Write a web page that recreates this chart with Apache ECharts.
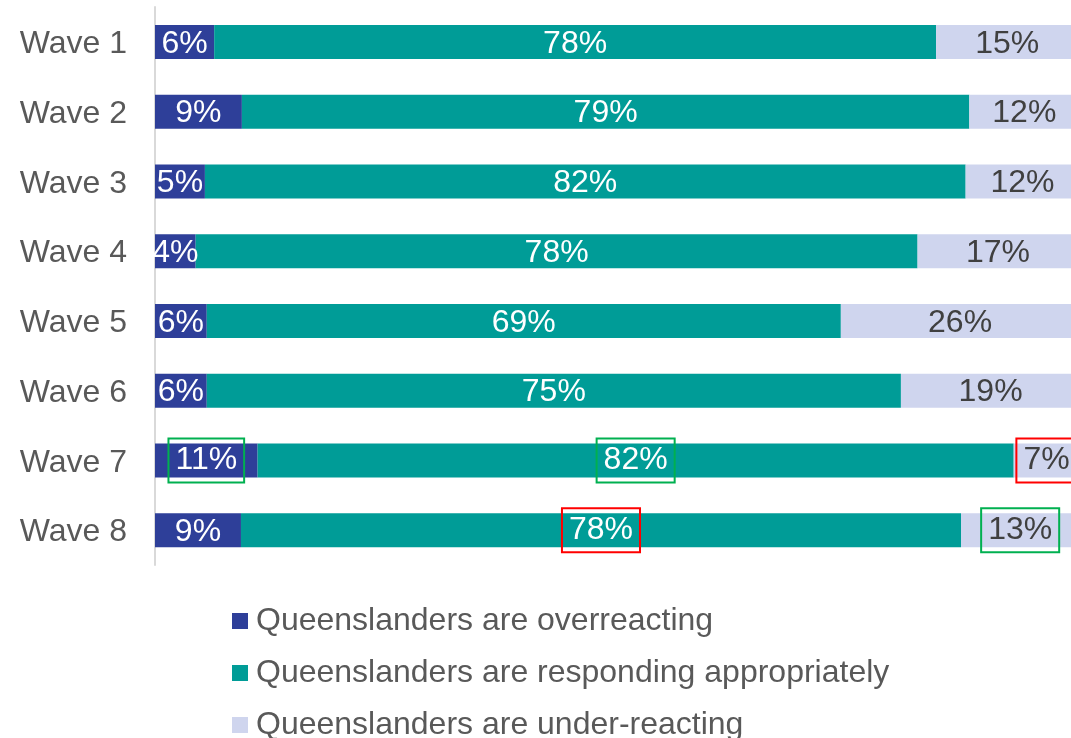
<!DOCTYPE html>
<html>
<head>
<meta charset="utf-8">
<script src="https://cdn.jsdelivr.net/npm/echarts@6/dist/echarts.min.js"></script>
<style>
html,body{margin:0;padding:0;background:#fff;}
#chart{width:1071px;height:738px;}
</style>
</head>
<body>
<div id="chart"></div>
<script>
const categories = ['Wave 1','Wave 2','Wave 3','Wave 4','Wave 5','Wave 6','Wave 7','Wave 8'];
const seriesNames = ['Queenslanders are overreacting','Queenslanders are responding appropriately','Queenslanders are under-reacting'];
const overreacting = [6.4, 9.4, 5.4, 4.4, 5.6, 5.6, 11.1, 9.3];
const appropriate  = [78.1, 78.7, 82.3, 78.1, 68.6, 75.1, 81.8, 77.9];
const underreacting = [15.4, 11.9, 12.3, 17.4, 25.8, 19.4, 7.1, 12.8];
// highlighted labels: [series index, category, box colour]
const highlights = [
  [0, 'Wave 7', '#00B050'],
  [1, 'Wave 7', '#00B050'],
  [2, 'Wave 7', '#FF0000'],
  [1, 'Wave 8', '#FF0000'],
  [2, 'Wave 8', '#00B050']
];
// the visible plot shows only up to this share (the rest runs off the picture)
const visibleMax = 99.1;

const colors = ['#2E3F99', '#009C97', '#CFD5EE'];
const labelColors = ['#FFFFFF', '#FFFFFF', '#404040'];
const font = 'Liberation Sans, Arial, sans-serif';
const allValues = [overreacting, appropriate, underreacting];

function buildData(si) {
  return allValues[si].map((v, i) => {
    const h = highlights.find(x => x[0] === si && x[1] === categories[i]);
    if (!h) return v;
    return {
      value: v,
      label: { borderColor: h[2], borderWidth: 2, padding: [9, 7, 3, 7], offset: [0, 0] }
    };
  });
}

const chart = echarts.init(document.getElementById('chart'), null, {renderer: 'canvas'});
chart.setOption({
  animation: false,
  backgroundColor: '#fff',
  grid: { left: 155, right: 0, top: 7, bottom: 173, containLabel: false },
  xAxis: { type: 'value', min: 0, max: visibleMax, show: false },
  yAxis: {
    type: 'category',
    data: categories,
    inverse: true,
    axisLine: { show: true, lineStyle: { color: '#D9D9D9', width: 2 } },
    axisTick: { show: false },
    axisLabel: {
      margin: 28,
      formatter: v => '{a|' + v + '}',
      rich: { a: { color: '#595959', fontSize: 32, fontFamily: font, lineHeight: 32, padding: [5, 0, 0, 0] } }
    }
  },
  legend: {
    orient: 'vertical',
    left: 227,
    top: 600,
    height: 200,
    itemWidth: 16,
    itemHeight: 16,
    itemGap: 20,
    icon: 'rect',
    textStyle: { color: '#595959', fontSize: 32, fontFamily: font, padding: [0,0,0,3] },
    data: seriesNames
  },
  series: seriesNames.map((name, si) => ({
    name: name,
    type: 'bar',
    stack: 'total',
    barWidth: 34,
    clip: false,
    itemStyle: { color: colors[si] },
    label: {
      show: true,
      position: 'inside',
      color: labelColors[si],
      fontSize: 32,
      fontFamily: font,
      lineHeight: 32,
      offset: [0, 2],
      formatter: p => Math.round(p.value) + '%'
    },
    data: buildData(si)
  }))
});
</script>
</body>
</html>
